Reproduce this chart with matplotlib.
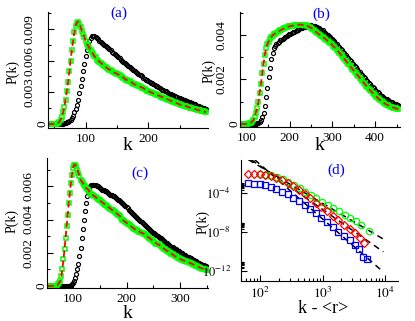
import numpy as np
import matplotlib
matplotlib.use('Agg')
import matplotlib.pyplot as plt
from matplotlib.ticker import MultipleLocator, FixedLocator, NullFormatter, LogLocator
from matplotlib.transforms import ScaledTranslation

plt.rcParams['font.family'] = ['Liberation Serif', 'DejaVu Serif']
plt.rcParams['mathtext.fontset'] = 'stix'

# ---------------- panel (a): k = 40, 42, ..., 292 ----------------
k_a = list(range(40, 293, 2))
sim_a = [0, 0, 0, 0, 0, 0, 0, 0, 0, 0,
         0, 0, 0.00002, 0.00005, 0.0001, 0.00015, 0.0002, 0.0003, 0.0004, 0.0006,
         0.0008, 0.0011, 0.0014, 0.0018, 0.0023, 0.0029, 0.0036, 0.0043, 0.0050, 0.0057,
         0.0064, 0.0070, 0.0075, 0.0079, 0.0081, 0.0083, 0.0083, 0.0083, 0.0082, 0.0081,
         0.0080, 0.0079, 0.0078, 0.0077, 0.0076, 0.0075, 0.0074, 0.0073, 0.0072, 0.0071,
         0.0070, 0.00685, 0.0067, 0.0066, 0.0065, 0.0064, 0.0063, 0.0062, 0.0061, 0.0060,
         0.0059, 0.0058, 0.0057, 0.0056, 0.0055, 0.0054, 0.0053, 0.0052, 0.0051, 0.0050,
         0.0049, 0.0048, 0.0047, 0.00465, 0.0046, 0.0045, 0.0044, 0.0043, 0.0042, 0.00415,
         0.0041, 0.0040, 0.0039, 0.00385, 0.0038, 0.0037, 0.0036, 0.00355, 0.0035, 0.0034,
         0.0033, 0.00325, 0.0032, 0.00315, 0.0031, 0.0030, 0.0029, 0.00285, 0.0028, 0.00275,
         0.0027, 0.00265, 0.0026, 0.00255, 0.0025, 0.00245, 0.0024, 0.00235, 0.0023, 0.00225,
         0.0022, 0.00215, 0.0021, 0.00205, 0.0020, 0.00195, 0.0019, 0.00185, 0.0018, 0.00175,
         0.0017, 0.00165, 0.0016, 0.00155, 0.0015, 0.00145, 0.0014]
gr_a = [0, 0, 0, 0, 0, 0, 0.00001, 0.00003, 0.0001, 0.0002,
        0.0004, 0.0007, 0.0011, 0.0016, 0.0023, 0.0031, 0.0040, 0.0050, 0.0060, 0.0070,
        0.0079, 0.0087, 0.0093, 0.0096, 0.0097, 0.0095, 0.0092, 0.0088, 0.0085, 0.0082,
        0.0079, 0.0076, 0.0074, 0.0072, 0.0070, 0.0068, 0.0066, 0.0064, 0.0063, 0.0061,
        0.0060, 0.0059, 0.0058, 0.0057, 0.0056, 0.0055, 0.0054, 0.0053, 0.0052, 0.00515,
        0.0051, 0.0050, 0.0049, 0.00485, 0.0048, 0.00475, 0.0047, 0.0046, 0.0045, 0.00445,
        0.0044, 0.0043, 0.0042, 0.00415, 0.0041, 0.00405, 0.0040, 0.0039, 0.0038, 0.00375,
        0.0037, 0.00365, 0.0036, 0.00355, 0.0035, 0.00345, 0.0034, 0.0033, 0.0032, 0.00315,
        0.0031, 0.00305, 0.0030, 0.00295, 0.0029, 0.00285, 0.0028, 0.00275, 0.0027, 0.00265,
        0.0026, 0.00255, 0.0025, 0.00245, 0.0024, 0.00235, 0.0023, 0.00225, 0.0022, 0.00215,
        0.0021, 0.00205, 0.0020, 0.00195, 0.0019, 0.00185, 0.0018, 0.0018, 0.00175, 0.0017,
        0.0017, 0.00165, 0.0016, 0.00155, 0.0015, 0.0015, 0.00145, 0.0014, 0.0014, 0.00135,
        0.0013, 0.0013, 0.00125, 0.0012, 0.0012, 0.00115, 0.0011]

# ---------------- panel (b): k = 85, 88, ..., 454 ----------------
k_b = list(range(85, 455, 3))
sim_b = [0, 0, 0, 0, 0, 0, 0, 0, 0, 0,
         0, 0, 0.00001, 0.00003, 0.00006, 0.0001, 0.0002, 0.0003, 0.0005, 0.0008,
         0.0012, 0.0016, 0.0021, 0.0025, 0.0029, 0.0032, 0.0034, 0.0035, 0.00358, 0.00365,
         0.0037, 0.00375, 0.00379, 0.00383, 0.00387, 0.0039, 0.00394, 0.00398, 0.00402, 0.00405,
         0.00408, 0.00412, 0.00415, 0.00418, 0.00421, 0.00424, 0.00427, 0.0043, 0.00433, 0.00435,
         0.00437, 0.00439, 0.00441, 0.00442, 0.00443, 0.00443, 0.00442, 0.00441, 0.0044, 0.00437,
         0.00434, 0.00431, 0.00428, 0.00424, 0.0042, 0.00415, 0.0041, 0.00405, 0.004, 0.00395,
         0.00389, 0.00383, 0.00377, 0.00371, 0.00365, 0.00359, 0.00352, 0.00345, 0.00338, 0.00331,
         0.00324, 0.00317, 0.0031, 0.00303, 0.00296, 0.00289, 0.00282, 0.00275, 0.00268, 0.00261,
         0.00254, 0.00247, 0.0024, 0.00233, 0.00226, 0.00219, 0.00212, 0.00205, 0.00198, 0.00191,
         0.00184, 0.00178, 0.00172, 0.00166, 0.0016, 0.00154, 0.00148, 0.00142, 0.00137, 0.00132,
         0.00127, 0.00122, 0.00118, 0.00114, 0.0011, 0.00106, 0.00103, 0.001, 0.00097, 0.00094,
         0.00091, 0.00088, 0.00086, 0.00084]
gr_b = [0, 0, 0, 0, 0, 0.00001, 0.00002, 0.00004, 0.00006, 0.0001,
        0.00016, 0.0003, 0.0005, 0.0007, 0.001, 0.0014, 0.0018, 0.0023, 0.0027, 0.0031,
        0.0034, 0.0036, 0.0037, 0.0038, 0.0039, 0.00397, 0.00402, 0.00406, 0.0041, 0.00413,
        0.00416, 0.0042, 0.00423, 0.00426, 0.00429, 0.00432, 0.00434, 0.00436, 0.00438, 0.0044,
        0.00441, 0.00442, 0.00443, 0.00444, 0.00445, 0.00446, 0.00446, 0.00446, 0.00446, 0.00445,
        0.00445, 0.00443, 0.00441, 0.00438, 0.00435, 0.00432, 0.00428, 0.00423, 0.00418, 0.00413,
        0.00408, 0.00404, 0.004, 0.00396, 0.00392, 0.00387, 0.00383, 0.00378, 0.00373, 0.00368,
        0.00363, 0.00358, 0.00352, 0.00346, 0.0034, 0.00334, 0.00327, 0.0032, 0.00313, 0.00306,
        0.00299, 0.00292, 0.00285, 0.00278, 0.00271, 0.00264, 0.00256, 0.00249, 0.00242, 0.00235,
        0.00228, 0.00221, 0.00214, 0.00207, 0.002, 0.00193, 0.00186, 0.00179, 0.00172, 0.00165,
        0.00158, 0.00152, 0.00146, 0.0014, 0.00134, 0.00128, 0.00122, 0.00117, 0.00112, 0.00107,
        0.00102, 0.00098, 0.00094, 0.0009, 0.00087, 0.00084, 0.00081, 0.00078, 0.00076, 0.00074,
        0.00072, 0.0007, 0.00068, 0.00066]

# ---------------- panel (c): k = 52, 54, ..., 352 ----------------
k_c = list(range(52, 353, 2))
sim_c = [0, 0, 0, 0, 0, 0, 0, 0, 0, 0,
         0, 0, 0, 0, 0, 0, 0, 0, 0, 0,
         0, 0.00002, 0.00005, 0.0001, 0.0002, 0.0003, 0.0005, 0.0007, 0.001, 0.0013,
         0.0018, 0.0023, 0.0029, 0.0034, 0.0040, 0.0045, 0.0050, 0.0054, 0.0057, 0.0059,
         0.0060, 0.0061, 0.0061, 0.0061, 0.0061, 0.00605, 0.0060, 0.0060, 0.00595, 0.0059,
         0.00585, 0.0058, 0.0058, 0.00575, 0.0057, 0.0057, 0.00565, 0.0056, 0.00555, 0.0055,
         0.00545, 0.0054, 0.0054, 0.00535, 0.0053, 0.00525, 0.0052, 0.00515, 0.0051, 0.00505,
         0.005, 0.00495, 0.0049, 0.00482, 0.00475, 0.00468, 0.0046, 0.00453, 0.00446, 0.00439,
         0.00432, 0.00425, 0.0042, 0.00414, 0.00408, 0.00402, 0.00396, 0.0039, 0.00384, 0.00378,
         0.00372, 0.00366, 0.0036, 0.00354, 0.00348, 0.00342, 0.00336, 0.00331, 0.00326, 0.00321,
         0.00316, 0.00311, 0.00306, 0.00301, 0.00296, 0.00291, 0.00286, 0.00281, 0.00276, 0.00271,
         0.00266, 0.00261, 0.00256, 0.00251, 0.00246, 0.00241, 0.00237, 0.00233, 0.00229, 0.00225,
         0.00221, 0.00217, 0.00213, 0.00209, 0.00205, 0.00201, 0.00197, 0.00193, 0.00189, 0.00185,
         0.00181, 0.00177, 0.00173, 0.0017, 0.00166, 0.00162, 0.00158, 0.00155, 0.00152, 0.00148,
         0.00145, 0.00141, 0.00138, 0.00134, 0.00131, 0.00128, 0.00124, 0.00121, 0.00118, 0.00115,
         0.00112]
gr_c = [0, 0, 0, 0, 0, 0, 0, 0, 0.00001, 0.00002,
        0.0001, 0.0002, 0.0003, 0.0006, 0.0010, 0.0016, 0.0022, 0.0029, 0.0036, 0.0043,
        0.0050, 0.0056, 0.0062, 0.0067, 0.0071, 0.0073, 0.0073, 0.0072, 0.0070, 0.0068,
        0.0066, 0.0064, 0.0063, 0.0062, 0.0061, 0.0060, 0.0059, 0.00585, 0.0058, 0.0057,
        0.0056, 0.00555, 0.0055, 0.00545, 0.0054, 0.00535, 0.0053, 0.00525, 0.0052, 0.00515,
        0.0051, 0.00505, 0.0050, 0.00495, 0.0049, 0.00485, 0.0048, 0.00475, 0.0047, 0.00465,
        0.0046, 0.00455, 0.0045, 0.00445, 0.0044, 0.00435, 0.0043, 0.00425, 0.0042, 0.0041,
        0.0040, 0.00395, 0.0039, 0.00385, 0.0038, 0.00375, 0.0037, 0.00365, 0.0036, 0.00355,
        0.0035, 0.00345, 0.0034, 0.00337, 0.00334, 0.0033, 0.00327, 0.00324, 0.0032, 0.00318,
        0.00315, 0.0031, 0.00305, 0.003, 0.00295, 0.0029, 0.00285, 0.0028, 0.00275, 0.0027,
        0.00265, 0.0026, 0.00255, 0.0025, 0.0025, 0.00245, 0.0024, 0.00235, 0.0023, 0.00225,
        0.0022, 0.00215, 0.0021, 0.0021, 0.00205, 0.0020, 0.00195, 0.0019, 0.00185, 0.0018,
        0.00178, 0.00175, 0.0017, 0.00167, 0.00163, 0.0016, 0.00157, 0.00155, 0.00152, 0.0015,
        0.00148, 0.00145, 0.00142, 0.0014, 0.00137, 0.00134, 0.00131, 0.00128, 0.00125, 0.00122,
        0.00119, 0.00116, 0.00113, 0.0011, 0.00108, 0.00105, 0.00103, 0.001, 0.00098, 0.00097,
        0.00095]

# ---------------- panel (d), log10 of P ----------------
x_green = [100, 123, 151, 186, 229, 282, 347, 427, 525, 646, 794, 977, 1202,
           1479, 1820, 2239, 2754, 3388, 4169, 5495]
lp_green = [-2.12, -2.15, -2.2, -2.35, -2.6, -2.9, -3.22, -3.55, -3.9, -4.22,
            -4.55, -4.9, -5.22, -5.56, -5.9, -6.25, -6.58, -6.92, -7.3, -7.87]
x_red = [65, 79, 98, 120, 148, 182, 224, 275, 339, 417, 513, 631, 776, 955,
         1175, 1445, 1778, 2188, 2692, 3311, 3981, 4571]
lp_red = [-2.05, -2.06, -2.08, -2.14, -2.26, -2.45, -2.7, -3.0, -3.35, -3.72,
          -4.1, -4.55, -5.0, -5.45, -5.9, -6.35, -6.8, -7.25, -7.7, -8.15,
          -8.6, -9.1]
x_blue = [65, 79, 98, 120, 148, 182, 224, 275, 339, 417, 513, 631, 776, 955,
          1175, 1445, 1778, 2188, 2692, 3311, 3802, 4467, 5129]
lp_blue = [-3.0, -3.05, -3.13, -3.25, -3.42, -3.65, -3.9, -4.15, -4.5, -4.88,
           -5.27, -5.67, -6.1, -6.55, -7.0, -7.45, -7.95, -8.4, -8.85, -9.35,
           -9.75, -10.6, -10.75]
# fitted power laws (end points)
fit_x = [[65, 9330], [72, 9330], [82, 8910]]
fit_lp = [[-0.62, -8.72], [-0.62, -10.02], [-0.62, -11.97]]

fig = plt.figure(figsize=(4.15, 3.21), dpi=100)

ax_a = fig.add_axes([0.1157, 0.6012, 0.3855, 0.3614])
ax_b = fig.add_axes([0.5783, 0.6044, 0.3855, 0.3583])
ax_c = fig.add_axes([0.1140, 0.1028, 0.3880, 0.4050])
ax_d = fig.add_axes([0.5800, 0.1246, 0.3790, 0.3770])

lin_panels = [
    (ax_a, k_a, sim_a, gr_a, (40, 295), (-0.00038, 0.0106),
     [0, 0.003, 0.006, 0.009], ['0', '0.003', '0.006', '0.009'], 0.0015,
     '(a)', (0.44, 0.99), (0.5, -0.078), (-0.181, 0.483)),
    (ax_b, k_b, sim_b, gr_b, (84, 458), (-0.000135, 0.00503),
     [0, 0.002, 0.004], ['0', '0.002', '0.004'], 0.001,
     '(b)', (0.51, 0.98), (0.494, -0.087), (-0.156, 0.487)),
    (ax_c, k_c, sim_c, gr_c, (51.8, 353), (-0.00012, 0.0077),
     [0, 0.002, 0.004, 0.006], ['0', '0.002', '0.004', '0.006'], 0.001,
     '(c)', (0.576, 0.885), (0.498, -0.13), (-0.176, 0.515)),
]

for ax, k, sim, gr, xl, yl, yt, ytl, ymin, tag, tpos, xlc, ylc in lin_panels:
    ax.plot(k, sim, ls='none', marker='o', ms=2.9, mfc='none', mec='black', mew=0.85)
    ax.plot(k, gr, ls='none', marker='s', ms=3.2, mfc='none', mec='#00ff00', mew=1.1)
    ax.plot(k, gr, ls=(0, (3.5, 2.0)), color='red', lw=1.3)
    ax.set_xlim(*xl)
    ax.set_ylim(*yl)
    ax.xaxis.set_major_locator(MultipleLocator(100))
    ax.xaxis.set_minor_locator(MultipleLocator(50))
    ax.yaxis.set_major_locator(FixedLocator(yt))
    ax.set_yticklabels(ytl, rotation=90, va='center')
    ax.yaxis.set_minor_locator(MultipleLocator(ymin))
    ax.text(tpos[0], tpos[1], tag, transform=ax.transAxes, color='blue',
            fontsize=11, ha='center', va='center')
    ax.set_xlabel('k', fontsize=14)
    ax.set_ylabel('P(k)', fontsize=10)
    ax.xaxis.set_label_coords(*xlc)
    ax.yaxis.set_label_coords(*ylc)

# ---------------- panel (d) ----------------
for fx, fl in zip(fit_x, fit_lp):
    ax_d.plot(fx, 10.0 ** np.array(fl), color='black', lw=1.1, ls=(0, (4, 3)))
ax_d.plot(x_green, 10.0 ** np.array(lp_green), ls='none', marker='o', ms=4.6,
          mfc='none', mec='#00ff00', mew=0.9)
ax_d.plot(x_red, 10.0 ** np.array(lp_red), ls='none', marker='D', ms=3.6,
          mfc='none', mec='red', mew=0.9)
ax_d.plot(x_blue, 10.0 ** np.array(lp_blue), ls='none', marker='s', ms=4.2,
          mfc='none', mec='blue', mew=0.9)
ax_d.set_xscale('log')
ax_d.set_yscale('log')
ax_d.set_xlim(49, 16000)
ax_d.set_ylim(10 ** -13.0, 10 ** -0.65)
ax_d.xaxis.set_major_locator(FixedLocator([1e2, 1e3, 1e4]))
ax_d.xaxis.set_minor_locator(LogLocator(base=10, subs=np.arange(2, 10), numticks=20))
ax_d.xaxis.set_minor_formatter(NullFormatter())
ax_d.set_xticklabels([r'$10^2$', r'$10^3$', r'$10^4$'])
ax_d.yaxis.set_major_locator(FixedLocator([1e-12, 1e-8, 1e-4]))
ax_d.set_yticklabels([r'$10^{-12}$', r'$10^{-8}$', r'$10^{-4}$'])
ax_d.yaxis.set_minor_locator(FixedLocator([m * e for e in (1e-12, 1e-8, 1e-4)
                                           for m in range(2, 10)]))
ax_d.yaxis.set_minor_formatter(NullFormatter())
ax_d.text(0.61, 0.917, '(d)', transform=ax_d.transAxes, color='blue',
          fontsize=11, ha='center', va='center')
ax_d.set_xlabel('k - <r>', fontsize=13)
ax_d.set_ylabel('P(k)', fontsize=10)
ax_d.xaxis.set_label_coords(0.523, -0.157)
ax_d.yaxis.set_label_coords(-0.2, 0.488)

for ax in (ax_a, ax_b, ax_c, ax_d):
    ax.spines['top'].set_visible(False)
    ax.spines['right'].set_visible(False)
    ax.tick_params(which='both', direction='in', labelsize=9.5, width=0.8)
    ax.tick_params(which='major', length=4)
    ax.tick_params(which='minor', length=2.5)
    ax.tick_params(axis='y', pad=9)
ax_d.tick_params(axis='y', pad=7, labelsize=9)

# the "0" label sits close to the axis in the original
for ax in (ax_a, ax_b, ax_c):
    lbl = ax.get_yticklabels()[0]
    lbl.set_transform(lbl.get_transform() + ScaledTranslation(13 / 100, 0, fig.dpi_scale_trans))

fig.savefig('out.png', dpi=100)
